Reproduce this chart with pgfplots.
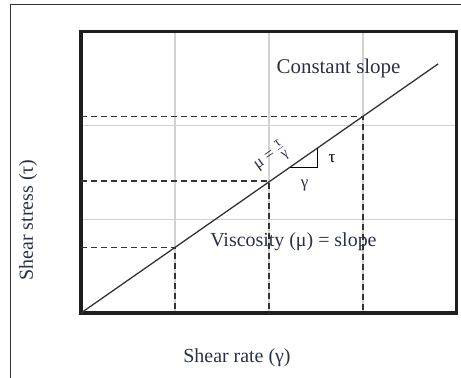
\documentclass[border=0pt]{standalone}
\usepackage{pgfplots}
\pgfplotsset{compat=1.18}
\usepackage{fontspec}
\setmainfont{Liberation Serif}
\definecolor{txtc}{HTML}{2A3048}
\definecolor{framec}{HTML}{1E1E1E}
\definecolor{gridc}{HTML}{D2D2D2}
\definecolor{dashc}{HTML}{333333}
\begin{document}
\begin{tikzpicture}
\useasboundingbox (-81bp,-65bp) rectangle (380bp,313bp);
\draw[line width=1bp, black!80] (-70bp,-66bp) -- (-70bp,308bp) -- (381bp,308bp);
\begin{axis}[
  scale only axis, width=376bp, height=281bp,
  xmin=0, xmax=4, ymin=0, ymax=3,
  xtick={1,2,3}, ytick={1,2},
  xticklabels={}, yticklabels={},
  major tick length=0pt,
  grid=major,
  major grid style={gridc, line width=1.1bp},
  axis line style={framec, line width=3bp},
  clip=false,
]
% dashed guide lines
\addplot[dashc, line width=1.5bp, dash pattern=on 6bp off 4bp] coordinates {(0,0.70) (1,0.70) (1,0)};
\addplot[dashc, line width=1.5bp, dash pattern=on 6bp off 4bp] coordinates {(0,1.41) (2,1.41) (2,0)};
\addplot[dashc, line width=1.5bp, dash pattern=on 6bp off 4bp] coordinates {(0,2.10) (3,2.10) (3,0)};
% constant slope line
\addplot[black!80, line width=1.3bp] coordinates {(0,0) (3.80,2.66)};
% slope triangle
\addplot[black, line width=1bp] coordinates {(2.22,1.554) (2.52,1.554) (2.52,1.764)};
\node[txtc, font=\fontsize{21}{24}\selectfont] at (axis cs:2.74,2.61) {Constant slope};
\node[txtc, font=\fontsize{20}{24}\selectfont] at (axis cs:2.26,0.76) {Viscosity (μ) = slope};
\node[black, font=\fontsize{17}{20}\selectfont] at (axis cs:2.67,1.65) {τ};
\node[txtc, font=\fontsize{17}{20}\selectfont] at (axis cs:2.38,1.36) {γ};
\node[txtc, rotate=35, font=\fontsize{17}{20}\selectfont] at (axis cs:2.02,1.66) {μ = $\frac{\hbox{\fontsize{14}{14}\selectfont τ}}{\hbox{\fontsize{14}{14}\selectfont γ}}$};
\end{axis}
\node[txtc, font=\fontsize{20}{24}\selectfont] at (156bp,-45bp) {Shear rate (γ)};
\node[txtc, rotate=90, font=\fontsize{20}{24}\selectfont] at (-53bp,93bp) {Shear stress (τ)};
\end{tikzpicture}
\end{document}
